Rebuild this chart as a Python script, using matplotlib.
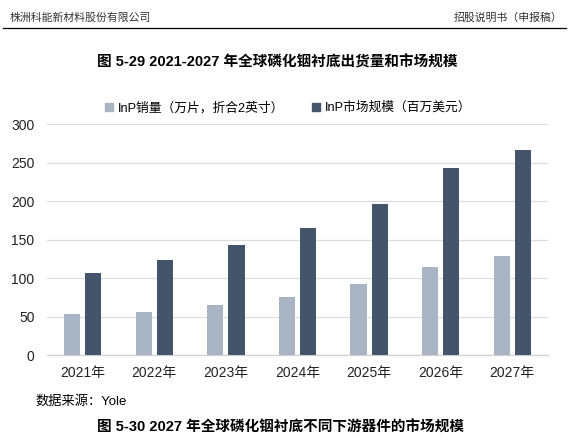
import numpy as np
import matplotlib
matplotlib.use("Agg")
import matplotlib.pyplot as plt
from matplotlib.patches import Patch
from matplotlib.lines import Line2D

plt.rcParams['font.family'] = ['Liberation Sans', 'Noto Sans CJK SC', 'DejaVu Sans']

years = ["2021年", "2022年", "2023年", "2024年", "2025年", "2026年", "2027年"]
volume = [53, 56, 65, 75, 92, 115, 129]        # InP销量（万片，折合2英寸）
market = [107, 124, 143, 165, 196, 243, 267]   # InP市场规模（百万美元）
yticks = [0, 50, 100, 150, 200, 250, 300]

c_light = '#A9B4C4'
c_dark = '#44546A'

W, H = 571, 448
fig = plt.figure(figsize=(W / 100, H / 100), dpi=100)
ax = fig.add_axes([47 / W, 1 - 355 / H, (548 - 47) / W, (355 - 124.3) / H])

x = np.arange(len(years))
bw = 0.225
ax.bar(x - 0.147, volume, bw, color=c_light, zorder=3)
ax.bar(x + 0.147, market, bw, color=c_dark, zorder=3)

ax.set_xlim(-0.5, len(years) - 0.5)
ax.set_ylim(0, 300)
ax.set_yticks(yticks)
ax.set_xticks(x)
ax.set_xticklabels(years, fontsize=10, color='#222222')
ax.tick_params(axis='y', labelsize=10, colors='#222222', length=0, pad=9)
ax.tick_params(axis='x', length=0, pad=8)
ax.grid(axis='y', color='#DCDCDC', lw=0.9, zorder=0)
for s in ['top', 'right', 'left']:
    ax.spines[s].set_visible(False)
ax.spines['bottom'].set_color('#D0D0D0')
ax.spines['bottom'].set_linewidth(0.9)

handles = [Patch(color=c_light, label='InP销量（万片，折合2英寸）'),
           Patch(color=c_dark, label='InP市场规模（百万美元）')]
fig.legend(handles=handles, loc='center', bbox_to_anchor=(0.505, 1 - 108 / H), ncol=2,
           frameon=False, fontsize=9.2, handlelength=0.6, handleheight=0.6,
           handletextpad=0.4, columnspacing=2.2)

# page header
fig.text(10 / W, 1 - 18 / H, "株洲科能新材料股份有限公司", fontsize=7.8, va='center',
         family=['Noto Sans CJK SC'], color='#333333')
fig.text(562 / W, 1 - 18 / H, "招股说明书（申报稿）", fontsize=7.8, va='center', ha='right',
         family=['Noto Sans CJK SC'], color='#333333')
fig.add_artist(Line2D([3 / W, 566 / W], [1 - 28 / H, 1 - 28 / H], color='black', lw=0.9))

fig.text(97 / W, 1 - 62 / H, "图 5-29 2021-2027 年全球磷化铟衬底出货量和市场规模",
         fontsize=10.5, fontweight='bold', ha='left', va='center')
fig.text(35 / W, 1 - 401 / H, "数据来源：Yole", fontsize=9.5, va='center')
fig.text(97 / W, 1 - 428 / H, "图 5-30 2027 年全球磷化铟衬底不同下游器件的市场规模",
         fontsize=10.5, fontweight='bold', ha='left', va='center')

fig.savefig("out.png", dpi=100)
